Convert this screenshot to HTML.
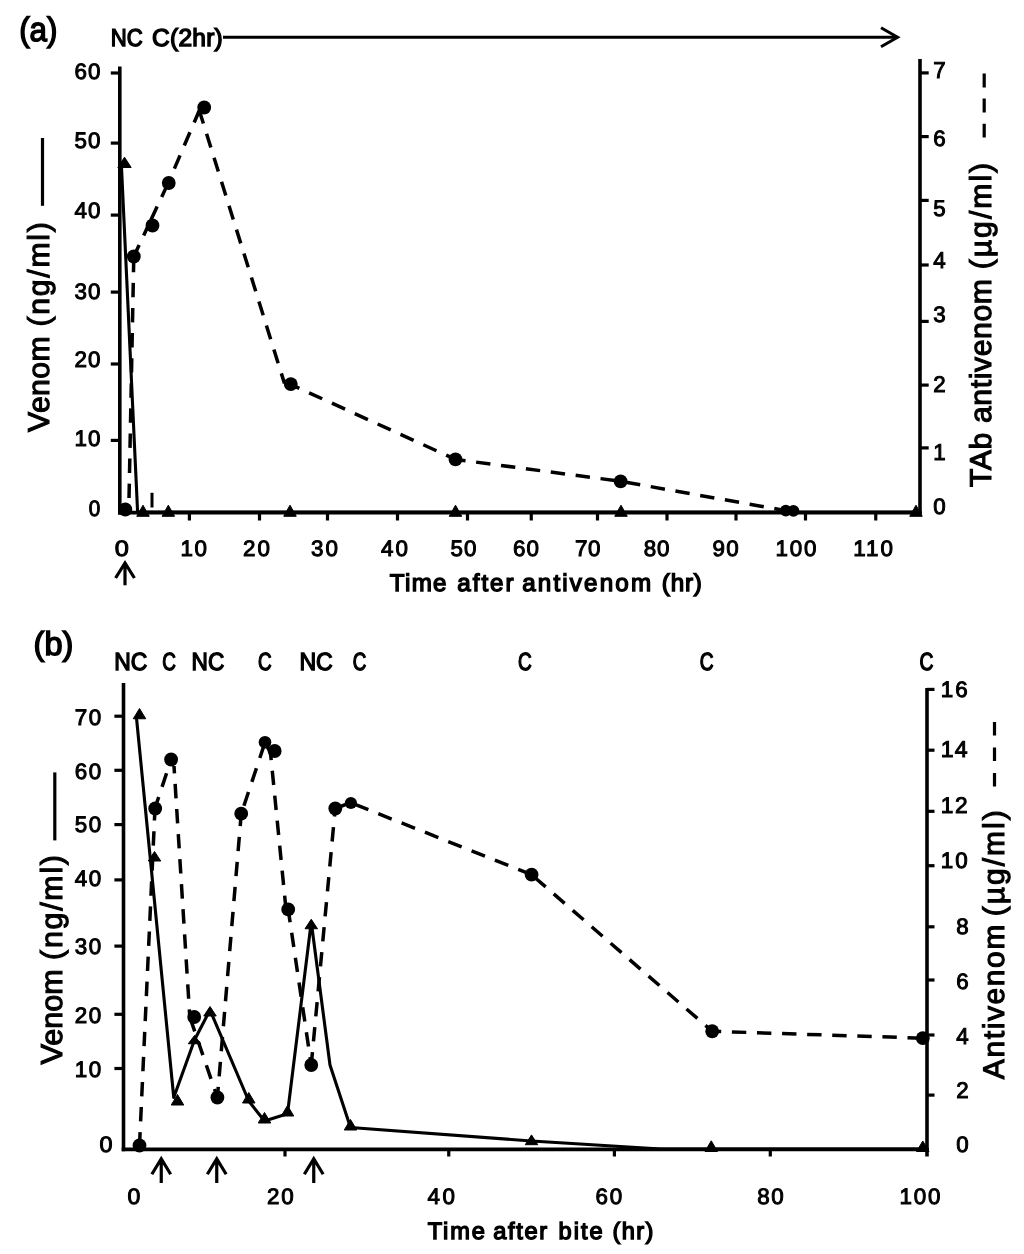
<!DOCTYPE html>
<html lang="en"><head><meta charset="utf-8"><title>Venom and antivenom concentrations</title>
<style>
html,body{margin:0;padding:0;background:#fff}
body{width:1024px;height:1254px;overflow:hidden}
svg{display:block}
svg text{font-family:"Liberation Sans", Arial, Helvetica, sans-serif;fill:#000}
</style></head><body>
<svg width="1024" height="1254" viewBox="0 0 1024 1254" stroke="#000" text-rendering="geometricPrecision">
<rect x="0" y="0" width="1024" height="1254" fill="#fff" stroke="none"/>
<line x1="119.80" y1="66.40" x2="119.80" y2="514.40" stroke-width="3.6"/>
<line x1="118.00" y1="512.60" x2="921.80" y2="512.60" stroke-width="3.6"/>
<line x1="920.00" y1="59.00" x2="920.00" y2="514.40" stroke-width="3.6"/>
<line x1="110.80" y1="73.00" x2="119.80" y2="73.00" stroke-width="3.2"/>
<line x1="110.80" y1="143.10" x2="119.80" y2="143.10" stroke-width="3.2"/>
<line x1="110.80" y1="215.10" x2="119.80" y2="215.10" stroke-width="3.2"/>
<line x1="110.80" y1="292.10" x2="119.80" y2="292.10" stroke-width="3.2"/>
<line x1="110.80" y1="364.00" x2="119.80" y2="364.00" stroke-width="3.2"/>
<line x1="110.80" y1="440.40" x2="119.80" y2="440.40" stroke-width="3.2"/>
<line x1="189.40" y1="512.60" x2="189.40" y2="520.50" stroke-width="3.2"/>
<line x1="259.50" y1="512.60" x2="259.50" y2="520.50" stroke-width="3.2"/>
<line x1="327.50" y1="512.60" x2="327.50" y2="520.50" stroke-width="3.2"/>
<line x1="397.50" y1="512.60" x2="397.50" y2="520.50" stroke-width="3.2"/>
<line x1="467.50" y1="512.60" x2="467.50" y2="520.50" stroke-width="3.2"/>
<line x1="531.25" y1="512.60" x2="531.25" y2="520.50" stroke-width="3.2"/>
<line x1="597.50" y1="512.60" x2="597.50" y2="520.50" stroke-width="3.2"/>
<line x1="667.00" y1="512.60" x2="667.00" y2="520.50" stroke-width="3.2"/>
<line x1="736.00" y1="512.60" x2="736.00" y2="520.50" stroke-width="3.2"/>
<line x1="805.50" y1="512.60" x2="805.50" y2="520.50" stroke-width="3.2"/>
<line x1="875.75" y1="512.60" x2="875.75" y2="520.50" stroke-width="3.2"/>
<line x1="920.00" y1="72.90" x2="928.70" y2="72.90" stroke-width="3.2"/>
<line x1="920.00" y1="136.60" x2="928.70" y2="136.60" stroke-width="3.2"/>
<line x1="920.00" y1="200.40" x2="928.70" y2="200.40" stroke-width="3.2"/>
<line x1="920.00" y1="265.00" x2="928.70" y2="265.00" stroke-width="3.2"/>
<line x1="920.00" y1="321.40" x2="928.70" y2="321.40" stroke-width="3.2"/>
<line x1="920.00" y1="385.10" x2="928.70" y2="385.10" stroke-width="3.2"/>
<line x1="920.00" y1="447.90" x2="928.70" y2="447.90" stroke-width="3.2"/>
<text x="74.40" y="79.08" font-size="22.39" letter-spacing="1.142" stroke="#000" stroke-width="1.0">60</text>
<text x="74.40" y="147.98" font-size="22.39" letter-spacing="1.142" stroke="#000" stroke-width="1.0">50</text>
<text x="74.40" y="218.08" font-size="22.39" letter-spacing="1.142" stroke="#000" stroke-width="1.0">40</text>
<text x="74.40" y="298.58" font-size="22.39" letter-spacing="1.142" stroke="#000" stroke-width="1.0">30</text>
<text x="74.40" y="366.78" font-size="22.39" letter-spacing="1.142" stroke="#000" stroke-width="1.0">20</text>
<text x="74.40" y="446.08" font-size="22.39" letter-spacing="1.142" stroke="#000" stroke-width="1.0">10</text>
<text x="88.70" y="515.78" font-size="22.39" textLength="11.52" lengthAdjust="spacingAndGlyphs" stroke="#000" stroke-width="1.0">0</text>
<text x="114.80" y="555.58" font-size="22.39" textLength="14.13" lengthAdjust="spacingAndGlyphs" stroke="#000" stroke-width="1.0">0</text>
<text x="180.50" y="555.58" font-size="22.39" letter-spacing="1.642" stroke="#000" stroke-width="1.0">10</text>
<text x="243.00" y="555.58" font-size="22.39" letter-spacing="2.142" stroke="#000" stroke-width="1.0">20</text>
<text x="311.00" y="555.58" font-size="22.39" letter-spacing="2.142" stroke="#000" stroke-width="1.0">30</text>
<text x="381.00" y="555.58" font-size="22.39" letter-spacing="2.142" stroke="#000" stroke-width="1.0">40</text>
<text x="450.50" y="555.58" font-size="22.39" letter-spacing="1.142" stroke="#000" stroke-width="1.0">50</text>
<text x="513.00" y="555.58" font-size="22.39" letter-spacing="1.142" stroke="#000" stroke-width="1.0">60</text>
<text x="575.00" y="555.58" font-size="22.39" letter-spacing="0.642" stroke="#000" stroke-width="1.0">70</text>
<text x="643.75" y="555.58" font-size="22.39" letter-spacing="0.892" stroke="#000" stroke-width="1.0">80</text>
<text x="712.50" y="555.58" font-size="22.39" letter-spacing="1.392" stroke="#000" stroke-width="1.0">90</text>
<text x="775.50" y="555.58" font-size="22.39" letter-spacing="1.801" stroke="#000" stroke-width="1.0">100</text>
<text x="853.20" y="555.58" font-size="22.39" letter-spacing="2.040" stroke="#000" stroke-width="1.0">110</text>
<text x="933.30" y="78.30" font-size="23.04" textLength="12.43" lengthAdjust="spacingAndGlyphs" stroke="#000" stroke-width="1.0">7</text>
<text x="933.30" y="145.88" font-size="22.39" textLength="12.43" lengthAdjust="spacingAndGlyphs" stroke="#000" stroke-width="1.0">6</text>
<text x="933.30" y="215.57" font-size="22.71" textLength="12.43" lengthAdjust="spacingAndGlyphs" stroke="#000" stroke-width="1.0">5</text>
<text x="933.30" y="268.20" font-size="23.04" textLength="12.43" lengthAdjust="spacingAndGlyphs" stroke="#000" stroke-width="1.0">4</text>
<text x="933.30" y="321.58" font-size="22.39" textLength="12.43" lengthAdjust="spacingAndGlyphs" stroke="#000" stroke-width="1.0">3</text>
<text x="933.30" y="391.50" font-size="22.71" textLength="12.43" lengthAdjust="spacingAndGlyphs" stroke="#000" stroke-width="1.0">2</text>
<text x="933.30" y="459.80" font-size="23.04" textLength="12.43" lengthAdjust="spacingAndGlyphs" stroke="#000" stroke-width="1.0">1</text>
<text x="933.30" y="513.58" font-size="22.39" textLength="12.43" lengthAdjust="spacingAndGlyphs" stroke="#000" stroke-width="1.0">0</text>
<text x="19.15" y="40.60" font-size="33.72" textLength="38.27" lengthAdjust="spacingAndGlyphs" stroke="#000" stroke-width="1.5">(a)</text>
<text x="110.80" y="46.10" font-size="24.49" textLength="31.99" lengthAdjust="spacingAndGlyphs" stroke="#000" stroke-width="1.4">NC</text>
<text x="152.00" y="46.10" font-size="24.49" letter-spacing="0.273" stroke="#000" stroke-width="1.4">C(2hr)</text>
<line x1="223.00" y1="37.20" x2="897.00" y2="37.20" stroke-width="3"/>
<path d="M881,27.7 L897.6,37.2 L881,46.8" fill="none" stroke-width="3"/>
<text x="49.20" y="431.95" transform="rotate(-90 49.20 431.95)" font-size="30.22" letter-spacing="0.393" stroke="#000" stroke-width="1.1">Venom</text>
<text x="49.20" y="326.55" transform="rotate(-90 49.20 326.55)" font-size="30.22" letter-spacing="1.721" stroke="#000" stroke-width="1.1">(ng/ml)</text>
<line x1="42.50" y1="138.00" x2="42.50" y2="205.80" stroke-width="3.2"/>
<text x="991.40" y="486.95" transform="rotate(-90 991.40 486.95)" font-size="30.22" letter-spacing="0.580" stroke="#000" stroke-width="1.1">TAb antivenom</text>
<text x="991.40" y="269.35" transform="rotate(-90 991.40 269.35)" font-size="30.22" letter-spacing="1.987" stroke="#000" stroke-width="1.1">(µg/ml)</text>
<line x1="984.20" y1="73.50" x2="984.20" y2="137.60" stroke-width="3.2" stroke-dasharray="13.9 11.2"/>
<text x="389.80" y="590.50" font-size="24.20" letter-spacing="1.306" stroke="#000" stroke-width="1.4">Time</text>
<text x="457.30" y="590.50" font-size="24.20" letter-spacing="1.974" stroke="#000" stroke-width="1.4">after</text>
<text x="522.20" y="590.50" font-size="24.20" letter-spacing="2.163" stroke="#000" stroke-width="1.4">antivenom</text>
<text x="661.80" y="590.50" font-size="24.20" letter-spacing="0.821" stroke="#000" stroke-width="1.4">(hr)</text>
<path d="M125.00,585.30 L125.00,564.00 M115.60,578.00 L125.00,563.00 L134.40,578.00" fill="none" stroke-width="3.2" stroke-linejoin="miter"/>
<line x1="133.80" y1="256.50" x2="128.80" y2="509.50" stroke-width="3.5" stroke-dasharray="14.4 10.7" stroke-dashoffset="23.80"/>
<line x1="133.80" y1="256.50" x2="149.00" y2="224.00" stroke-width="3.5" stroke-dasharray="14.4 10.7" stroke-dashoffset="1.80"/>
<line x1="149.00" y1="224.00" x2="168.20" y2="183.00" stroke-width="3.5" stroke-dasharray="14.4 10.7" stroke-dashoffset="20.30"/>
<line x1="168.20" y1="183.00" x2="199.30" y2="110.50" stroke-width="3.5" stroke-dasharray="14.4 10.7" stroke-dashoffset="9.40"/>
<line x1="199.30" y1="110.50" x2="284.50" y2="383.50" stroke-width="3.5" stroke-dasharray="14.4 10.7" stroke-dashoffset="0.70"/>
<line x1="290.80" y1="384.50" x2="455.50" y2="459.40" stroke-width="3.5" stroke-dasharray="14.4 10.7" stroke-dashoffset="5.00"/>
<line x1="455.50" y1="459.40" x2="620.60" y2="481.30" stroke-width="3.5" stroke-dasharray="14.4 10.7" stroke-dashoffset="4.30"/>
<line x1="620.60" y1="481.30" x2="785.80" y2="510.60" stroke-width="3.5" stroke-dasharray="14.4 10.7" stroke-dashoffset="19.60"/>
<line x1="785.80" y1="510.60" x2="793.40" y2="510.90" stroke-width="3.5"/>
<polyline points="121.40,165.00 137.60,512.00 916.00,512.00" fill="none" stroke-width="3.1" stroke-linejoin="round"/>
<circle cx="125.30" cy="509.50" r="6.9" fill="#000" stroke="none"/>
<circle cx="133.80" cy="256.50" r="6.9" fill="#000" stroke="none"/>
<circle cx="152.50" cy="225.50" r="6.9" fill="#000" stroke="none"/>
<circle cx="168.75" cy="183.00" r="6.9" fill="#000" stroke="none"/>
<circle cx="204.20" cy="107.50" r="6.9" fill="#000" stroke="none"/>
<circle cx="290.80" cy="384.10" r="6.9" fill="#000" stroke="none"/>
<circle cx="455.50" cy="459.40" r="6.9" fill="#000" stroke="none"/>
<circle cx="620.60" cy="481.30" r="6.9" fill="#000" stroke="none"/>
<circle cx="785.80" cy="510.60" r="5.9" fill="#000" stroke="none"/>
<circle cx="793.40" cy="510.90" r="5.9" fill="#000" stroke="none"/>
<polygon points="117.80,167.50 131.20,167.50 124.50,157.20" fill="#000" stroke="#000" stroke-width="1" stroke-linejoin="round"/>
<polygon points="136.75,516.30 149.25,516.30 143.00,505.20" fill="#000" stroke="#000" stroke-width="1" stroke-linejoin="round"/>
<polygon points="162.05,516.30 174.55,516.30 168.30,505.20" fill="#000" stroke="#000" stroke-width="1" stroke-linejoin="round"/>
<polygon points="283.75,516.30 296.25,516.30 290.00,505.20" fill="#000" stroke="#000" stroke-width="1" stroke-linejoin="round"/>
<polygon points="449.25,516.30 461.75,516.30 455.50,505.20" fill="#000" stroke="#000" stroke-width="1" stroke-linejoin="round"/>
<polygon points="614.75,516.30 627.25,516.30 621.00,505.20" fill="#000" stroke="#000" stroke-width="1" stroke-linejoin="round"/>
<polygon points="909.75,516.30 922.25,516.30 916.00,505.20" fill="#000" stroke="#000" stroke-width="1" stroke-linejoin="round"/>
<line x1="152.00" y1="492.80" x2="152.00" y2="507.50" stroke-width="3"/>
<line x1="123.50" y1="683.00" x2="123.50" y2="1151.20" stroke-width="3.6"/>
<line x1="121.70" y1="1149.40" x2="928.80" y2="1149.40" stroke-width="3.6"/>
<line x1="927.00" y1="688.00" x2="927.00" y2="1156.50" stroke-width="3.6"/>
<line x1="114.40" y1="716.20" x2="123.50" y2="716.20" stroke-width="3.2"/>
<line x1="114.40" y1="770.30" x2="123.50" y2="770.30" stroke-width="3.2"/>
<line x1="114.40" y1="824.60" x2="123.50" y2="824.60" stroke-width="3.2"/>
<line x1="114.40" y1="879.90" x2="123.50" y2="879.90" stroke-width="3.2"/>
<line x1="114.40" y1="946.10" x2="123.50" y2="946.10" stroke-width="3.2"/>
<line x1="114.40" y1="1014.30" x2="123.50" y2="1014.30" stroke-width="3.2"/>
<line x1="114.40" y1="1068.50" x2="123.50" y2="1068.50" stroke-width="3.2"/>
<line x1="285.00" y1="1149.40" x2="285.00" y2="1156.50" stroke-width="3.2"/>
<line x1="448.75" y1="1149.40" x2="448.75" y2="1156.50" stroke-width="3.2"/>
<line x1="614.40" y1="1149.40" x2="614.40" y2="1156.50" stroke-width="3.2"/>
<line x1="770.30" y1="1149.40" x2="770.30" y2="1156.50" stroke-width="3.2"/>
<line x1="927.00" y1="689.40" x2="934.50" y2="689.40" stroke-width="3.2"/>
<line x1="927.00" y1="750.20" x2="934.50" y2="750.20" stroke-width="3.2"/>
<line x1="927.00" y1="811.30" x2="934.50" y2="811.30" stroke-width="3.2"/>
<line x1="927.00" y1="865.70" x2="934.50" y2="865.70" stroke-width="3.2"/>
<line x1="927.00" y1="926.80" x2="934.50" y2="926.80" stroke-width="3.2"/>
<line x1="927.00" y1="980.00" x2="934.50" y2="980.00" stroke-width="3.2"/>
<line x1="927.00" y1="1035.00" x2="934.50" y2="1035.00" stroke-width="3.2"/>
<line x1="927.00" y1="1095.10" x2="934.50" y2="1095.10" stroke-width="3.2"/>
<text x="74.80" y="724.58" font-size="22.39" letter-spacing="1.542" stroke="#000" stroke-width="1.0">70</text>
<text x="74.80" y="778.68" font-size="22.39" letter-spacing="1.542" stroke="#000" stroke-width="1.0">60</text>
<text x="74.80" y="832.28" font-size="22.39" letter-spacing="1.542" stroke="#000" stroke-width="1.0">50</text>
<text x="74.80" y="885.78" font-size="22.39" letter-spacing="1.542" stroke="#000" stroke-width="1.0">40</text>
<text x="74.80" y="954.28" font-size="22.39" letter-spacing="1.542" stroke="#000" stroke-width="1.0">30</text>
<text x="74.80" y="1022.68" font-size="22.39" letter-spacing="1.542" stroke="#000" stroke-width="1.0">20</text>
<text x="74.80" y="1076.98" font-size="22.39" letter-spacing="1.542" stroke="#000" stroke-width="1.0">10</text>
<text x="99.50" y="1152.28" font-size="22.39" textLength="13.03" lengthAdjust="spacingAndGlyphs" stroke="#000" stroke-width="1.0">0</text>
<text x="127.50" y="1203.88" font-size="22.39" textLength="12.83" lengthAdjust="spacingAndGlyphs" stroke="#000" stroke-width="1.0">0</text>
<text x="267.00" y="1203.88" font-size="22.39" letter-spacing="1.892" stroke="#000" stroke-width="1.0">20</text>
<text x="427.50" y="1203.88" font-size="22.39" letter-spacing="2.642" stroke="#000" stroke-width="1.0">40</text>
<text x="595.60" y="1203.88" font-size="22.39" letter-spacing="1.742" stroke="#000" stroke-width="1.0">60</text>
<text x="757.20" y="1203.88" font-size="22.39" letter-spacing="1.692" stroke="#000" stroke-width="1.0">80</text>
<text x="899.50" y="1203.88" font-size="22.39" letter-spacing="1.801" stroke="#000" stroke-width="1.0">100</text>
<text x="940.70" y="697.28" font-size="22.39" letter-spacing="2.042" stroke="#000" stroke-width="1.0">16</text>
<text x="940.70" y="757.00" font-size="23.04" letter-spacing="1.322" stroke="#000" stroke-width="1.0">14</text>
<text x="940.70" y="812.50" font-size="22.71" letter-spacing="1.687" stroke="#000" stroke-width="1.0">12</text>
<text x="940.70" y="867.98" font-size="22.39" letter-spacing="2.042" stroke="#000" stroke-width="1.0">10</text>
<text x="956.20" y="934.08" font-size="22.39" textLength="12.43" lengthAdjust="spacingAndGlyphs" stroke="#000" stroke-width="1.0">8</text>
<text x="956.20" y="989.28" font-size="22.39" textLength="12.43" lengthAdjust="spacingAndGlyphs" stroke="#000" stroke-width="1.0">6</text>
<text x="956.20" y="1043.80" font-size="23.04" textLength="12.43" lengthAdjust="spacingAndGlyphs" stroke="#000" stroke-width="1.0">4</text>
<text x="956.20" y="1098.20" font-size="22.71" textLength="12.43" lengthAdjust="spacingAndGlyphs" stroke="#000" stroke-width="1.0">2</text>
<text x="956.20" y="1151.98" font-size="22.39" textLength="12.43" lengthAdjust="spacingAndGlyphs" stroke="#000" stroke-width="1.0">0</text>
<text x="33.55" y="654.80" font-size="33.03" textLength="39.77" lengthAdjust="spacingAndGlyphs" stroke="#000" stroke-width="1.5">(b)</text>
<text x="114.20" y="669.80" font-size="24.78" textLength="33.09" lengthAdjust="spacingAndGlyphs" stroke="#000" stroke-width="1.4">NC</text>
<text x="162.20" y="669.80" font-size="24.78" textLength="13.64" lengthAdjust="spacingAndGlyphs" stroke="#000" stroke-width="1.4">C</text>
<text x="191.60" y="669.80" font-size="24.78" textLength="32.69" lengthAdjust="spacingAndGlyphs" stroke="#000" stroke-width="1.4">NC</text>
<text x="258.00" y="669.80" font-size="24.78" textLength="13.64" lengthAdjust="spacingAndGlyphs" stroke="#000" stroke-width="1.4">C</text>
<text x="299.40" y="669.80" font-size="24.78" textLength="33.39" lengthAdjust="spacingAndGlyphs" stroke="#000" stroke-width="1.4">NC</text>
<text x="352.70" y="669.80" font-size="24.78" textLength="13.54" lengthAdjust="spacingAndGlyphs" stroke="#000" stroke-width="1.4">C</text>
<text x="518.10" y="669.80" font-size="24.78" textLength="13.74" lengthAdjust="spacingAndGlyphs" stroke="#000" stroke-width="1.4">C</text>
<text x="699.70" y="669.80" font-size="24.78" textLength="13.84" lengthAdjust="spacingAndGlyphs" stroke="#000" stroke-width="1.4">C</text>
<text x="919.40" y="669.80" font-size="24.78" textLength="13.94" lengthAdjust="spacingAndGlyphs" stroke="#000" stroke-width="1.4">C</text>
<text x="62.00" y="1064.55" transform="rotate(-90 62.00 1064.55)" font-size="30.36" textLength="95.45" lengthAdjust="spacingAndGlyphs" stroke="#000" stroke-width="1.1">Venom</text>
<text x="62.00" y="959.95" transform="rotate(-90 62.00 959.95)" font-size="30.36" letter-spacing="1.746" stroke="#000" stroke-width="1.1">(ng/ml)</text>
<line x1="54.80" y1="772.40" x2="54.80" y2="840.40" stroke-width="3.2"/>
<text x="1004.20" y="1079.15" transform="rotate(-90 1004.20 1079.15)" font-size="29.93" letter-spacing="1.637" stroke="#000" stroke-width="1.1">Antivenom</text>
<text x="1004.20" y="916.25" transform="rotate(-90 1004.20 916.25)" font-size="29.93" letter-spacing="2.054" stroke="#000" stroke-width="1.1">(µg/ml)</text>
<line x1="994.50" y1="722.00" x2="994.50" y2="786.40" stroke-width="3.2" stroke-dasharray="13.4 12.1"/>
<text x="427.70" y="1238.90" font-size="23.62" letter-spacing="1.828" stroke="#000" stroke-width="1.4">Time</text>
<text x="493.30" y="1238.90" font-size="23.62" letter-spacing="1.638" stroke="#000" stroke-width="1.4">after</text>
<text x="558.50" y="1238.90" font-size="23.62" letter-spacing="2.056" stroke="#000" stroke-width="1.4">bite</text>
<text x="612.50" y="1238.90" font-size="23.62" letter-spacing="1.355" stroke="#000" stroke-width="1.4">(hr)</text>
<path d="M161.25,1183.00 L161.25,1159.75 M151.85,1174.25 L161.25,1158.75 L170.65,1174.25" fill="none" stroke-width="3.2" stroke-linejoin="miter"/>
<path d="M216.75,1183.00 L216.75,1159.75 M207.35,1174.25 L216.75,1158.75 L226.15,1174.25" fill="none" stroke-width="3.2" stroke-linejoin="miter"/>
<path d="M313.75,1183.00 L313.75,1159.75 M304.35,1174.25 L313.75,1158.75 L323.15,1174.25" fill="none" stroke-width="3.2" stroke-linejoin="miter"/>
<line x1="139.50" y1="1145.50" x2="155.00" y2="808.25" stroke-width="3.5" stroke-dasharray="14.4 10.7" stroke-dashoffset="1.00"/>
<line x1="155.00" y1="808.25" x2="171.10" y2="759.50" stroke-width="3.5" stroke-dasharray="14.4 10.7" stroke-dashoffset="2.60"/>
<line x1="174.00" y1="766.00" x2="189.80" y2="1017.00" stroke-width="3.5" stroke-dasharray="14.4 10.7" stroke-dashoffset="7.10"/>
<line x1="189.80" y1="1017.00" x2="217.40" y2="1097.50" stroke-width="3.5" stroke-dasharray="14.4 10.7" stroke-dashoffset="24.30"/>
<line x1="217.40" y1="1097.50" x2="241.25" y2="813.75" stroke-width="3.5" stroke-dasharray="14.4 10.7" stroke-dashoffset="3.80"/>
<line x1="241.25" y1="813.75" x2="265.00" y2="742.50" stroke-width="3.5" stroke-dasharray="14.4 10.7" stroke-dashoffset="16.60"/>
<line x1="265.00" y1="742.50" x2="270.50" y2="753.00" stroke-width="3.5" stroke-dasharray="14.4 10.7" stroke-dashoffset="0.00"/>
<line x1="270.50" y1="753.00" x2="286.00" y2="909.40" stroke-width="3.5" stroke-dasharray="14.4 10.7" stroke-dashoffset="7.30"/>
<line x1="288.20" y1="909.40" x2="311.25" y2="1065.00" stroke-width="3.5" stroke-dasharray="14.4 10.7" stroke-dashoffset="1.40"/>
<line x1="311.25" y1="1065.00" x2="335.20" y2="808.50" stroke-width="3.5" stroke-dasharray="14.4 10.7" stroke-dashoffset="1.40"/>
<line x1="335.20" y1="808.50" x2="350.70" y2="802.70" stroke-width="3.5" stroke-dasharray="14.4 10.7" stroke-dashoffset="0.00"/>
<line x1="350.70" y1="802.70" x2="531.60" y2="874.70" stroke-width="3.5" stroke-dasharray="14.4 10.7" stroke-dashoffset="20.50"/>
<line x1="531.60" y1="874.70" x2="712.20" y2="1031.25" stroke-width="3.5" stroke-dasharray="14.4 10.7" stroke-dashoffset="20.90"/>
<line x1="712.20" y1="1031.25" x2="922.80" y2="1038.20" stroke-width="3.5" stroke-dasharray="14.4 10.7" stroke-dashoffset="5.40"/>
<polyline points="136.50,718.00 173.75,1097.50 194.50,1040.00 210.00,1010.00 248.75,1101.00 264.50,1121.00 287.50,1113.75 311.25,922.00 330.00,1065.00 350.50,1127.50 531.50,1141.00 661.00,1149.00 923.00,1149.00" fill="none" stroke-width="3.1" stroke-linejoin="round"/>
<circle cx="139.50" cy="1145.50" r="6.9" fill="#000" stroke="none"/>
<circle cx="155.20" cy="808.50" r="6.9" fill="#000" stroke="none"/>
<circle cx="171.10" cy="759.50" r="6.9" fill="#000" stroke="none"/>
<circle cx="194.20" cy="1017.00" r="6.9" fill="#000" stroke="none"/>
<circle cx="217.40" cy="1097.50" r="6.9" fill="#000" stroke="none"/>
<circle cx="241.20" cy="813.70" r="6.9" fill="#000" stroke="none"/>
<circle cx="274.70" cy="751.00" r="6.9" fill="#000" stroke="none"/>
<circle cx="288.20" cy="909.40" r="6.9" fill="#000" stroke="none"/>
<circle cx="311.25" cy="1065.00" r="6.9" fill="#000" stroke="none"/>
<circle cx="335.30" cy="808.50" r="6.9" fill="#000" stroke="none"/>
<circle cx="531.60" cy="874.70" r="6.9" fill="#000" stroke="none"/>
<circle cx="712.20" cy="1031.25" r="6.9" fill="#000" stroke="none"/>
<circle cx="922.80" cy="1038.20" r="6.9" fill="#000" stroke="none"/>
<circle cx="265.00" cy="742.30" r="6.3" fill="#000" stroke="none"/>
<circle cx="350.90" cy="803.00" r="6.1" fill="#000" stroke="none"/>
<polygon points="133.25,718.75 145.75,718.75 139.50,708.50" fill="#000" stroke="#000" stroke-width="1" stroke-linejoin="round"/>
<polygon points="148.25,861.00 160.75,861.00 154.50,851.50" fill="#000" stroke="#000" stroke-width="1" stroke-linejoin="round"/>
<polygon points="171.25,1105.00 183.75,1105.00 177.50,1094.50" fill="#000" stroke="#000" stroke-width="1" stroke-linejoin="round"/>
<polygon points="188.25,1043.75 200.75,1043.75 194.50,1035.50" fill="#000" stroke="#000" stroke-width="1" stroke-linejoin="round"/>
<polygon points="203.75,1016.00 216.25,1016.00 210.00,1006.50" fill="#000" stroke="#000" stroke-width="1" stroke-linejoin="round"/>
<polygon points="242.50,1103.00 255.00,1103.00 248.75,1092.50" fill="#000" stroke="#000" stroke-width="1" stroke-linejoin="round"/>
<polygon points="258.25,1123.00 270.75,1123.00 264.50,1112.50" fill="#000" stroke="#000" stroke-width="1" stroke-linejoin="round"/>
<polygon points="281.25,1116.00 293.75,1116.00 287.50,1105.50" fill="#000" stroke="#000" stroke-width="1" stroke-linejoin="round"/>
<polygon points="305.00,928.75 317.50,928.75 311.25,919.25" fill="#000" stroke="#000" stroke-width="1" stroke-linejoin="round"/>
<polygon points="344.25,1130.00 356.75,1130.00 350.50,1119.50" fill="#000" stroke="#000" stroke-width="1" stroke-linejoin="round"/>
<polygon points="525.25,1144.70 537.75,1144.70 531.50,1134.90" fill="#000" stroke="#000" stroke-width="1" stroke-linejoin="round"/>
<polygon points="705.00,1151.50 717.50,1151.50 711.25,1140.80" fill="#000" stroke="#000" stroke-width="1" stroke-linejoin="round"/>
<polygon points="916.55,1151.50 929.05,1151.50 922.80,1141.00" fill="#000" stroke="#000" stroke-width="1" stroke-linejoin="round"/>
</svg>
</body></html>
